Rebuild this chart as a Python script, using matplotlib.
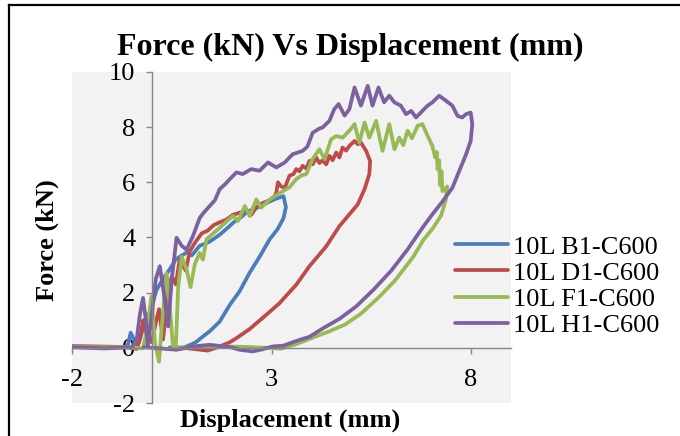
import matplotlib
matplotlib.use("Agg")
import matplotlib.pyplot as plt
from matplotlib.lines import Line2D

# ---- data ----
b1_x = [-2.0, -1.5, -1.0, -0.7, -0.6, -0.53, -0.45, -0.38, -0.3, -0.2, -0.05, 0.12, 0.28, 0.45, 0.6, 0.75,
        0.87, 1.0, 1.2, 1.45, 1.7, 1.9, 2.05, 2.25, 2.4, 2.6, 2.8, 2.95, 3.1, 3.2, 3.3, 3.36,
        3.3, 3.15, 2.95, 2.7, 2.45, 2.2, 1.95, 1.7, 1.45, 1.28, 1.1, 0.95, 0.78, 0.6, 0.45]
b1_y = [0.05, 0.04, 0.03, 0.02, 0.1, 0.55, 0.3, 0.0, 0.3, 0.8, 1.3, 2.1, 2.5, 2.85, 3.2, 3.35,
        3.45, 3.35, 3.7, 3.85, 4.1, 4.35, 4.55, 4.75, 4.95, 5.05, 5.2, 5.3, 5.4, 5.45, 5.5, 5.1,
        4.7, 4.3, 3.93, 3.3, 2.72, 2.05, 1.55, 0.95, 0.6, 0.41, 0.2, 0.1, 0.0, 0.0, 0.02]

d1_x = [-2.0, -1.5, -1.0, -0.6, -0.38, -0.3, -0.22, -0.12, 0.0, 0.1, 0.18, 0.28, 0.35, 0.42, 0.5, 0.6,
        0.7, 0.85, 0.95, 1.1, 1.25, 1.4, 1.55, 1.7, 1.87, 2.03, 2.2, 2.37, 2.49, 2.62, 2.78, 2.95,
        3.08, 3.12, 3.16, 3.24, 3.33, 3.45, 3.55, 3.62, 3.7, 3.78, 3.87, 3.95, 4.03, 4.12, 4.2, 4.28,
        4.37, 4.45, 4.53, 4.62, 4.7, 4.78, 4.87, 4.95, 5.08, 5.16, 5.24, 5.37, 5.47, 5.45, 5.33, 5.16,
        4.95, 4.7, 4.37, 3.95, 3.62, 3.2, 2.87, 2.45, 2.12, 1.95, 1.7, 1.4, 1.1, 0.8]
d1_y = [0.06, 0.05, 0.04, 0.02, -0.04, 0.3, 1.0, 0.4, 0.2, 0.9, 1.4, 0.3, 1.2, 2.1, 2.6, 2.3,
        3.2, 2.8, 3.5, 3.85, 4.15, 4.25, 4.45, 4.55, 4.65, 4.82, 4.9, 4.95, 4.82, 5.1, 5.25, 5.35,
        5.5, 5.63, 6.0, 5.85, 5.8, 6.24, 6.3, 6.48, 6.4, 6.6, 6.5, 6.78, 6.65, 6.9, 6.7, 6.8,
        6.65, 6.96, 6.8, 7.08, 6.9, 7.26, 7.15, 7.32, 7.5, 7.38, 7.44, 7.14, 6.77, 6.3, 5.75, 5.2,
        4.84, 4.41, 3.68, 2.96, 2.29, 1.62, 1.2, 0.68, 0.35, 0.2, 0.05, -0.1, -0.05, 0.0]

f1_x = [-2.0, -1.5, -1.0, -0.5, -0.22, -0.1, -0.01, 0.08, 0.18, 0.28, 0.37, 0.45, 0.53, 0.6, 0.66, 0.75,
        0.87, 0.97, 1.08, 1.2, 1.28, 1.37, 1.5, 1.7, 1.85, 2.03, 2.16, 2.33, 2.45, 2.62, 2.74, 2.87,
        3.03, 3.24, 3.45, 3.62, 3.75, 3.87, 4.03, 4.2, 4.33, 4.49, 4.62, 4.78, 4.95, 5.08, 5.2, 5.33,
        5.45, 5.62, 5.78, 5.95, 6.08, 6.2, 6.3, 6.41, 6.52, 6.66, 6.78, 6.91, 7.03, 7.1, 7.14, 7.16,
        7.2, 7.22, 7.26, 7.28, 7.35, 7.4, 7.37, 7.25, 7.05, 6.8, 6.55, 6.1, 5.7, 5.25, 4.85, 4.45,
        4.05, 3.65, 3.25, 2.9, 2.4, 1.9, 1.4, 0.9, 0.6]
f1_y = [0.03, 0.02, 0.02, 0.02, -0.02, 0.8, 1.87, 0.17, -0.5, 1.3, 2.7, 1.5, 0.05, 0.0, 2.2, 3.3,
        2.85, 2.2, 3.05, 3.44, 3.2, 3.93, 4.1, 4.35, 4.55, 4.78, 4.6, 5.14, 4.78, 5.38, 5.08, 5.27,
        5.45, 5.64, 5.82, 6.12, 6.25, 6.3, 6.85, 7.2, 6.84, 7.56, 7.68, 7.62, 7.87, 8.11, 7.44, 8.17,
        7.62, 8.23, 7.14, 8.11, 7.2, 7.62, 7.35, 7.87, 7.6, 8.05, 8.11, 7.69, 7.32, 6.9, 7.1, 6.47,
        6.8, 5.9, 6.4, 5.68, 5.75, 5.85, 5.38, 4.8, 4.35, 3.9, 3.3, 2.45, 1.85, 1.25, 0.85, 0.6,
        0.38, 0.15, -0.03, 0.0, 0.03, 0.05, 0.03, 0.02, 0.02]

h1_x = [-2.0, -1.6, -1.2, -0.8, -0.5, -0.38, -0.3, -0.22, -0.15, -0.1, 0.0, 0.1, 0.2, 0.3, 0.41, 0.5,
        0.62, 0.75, 0.87, 1.03, 1.2, 1.3, 1.45, 1.58, 1.7, 1.85, 1.95, 2.12, 2.28, 2.49, 2.7, 2.91,
        3.12, 3.33, 3.53, 3.78, 3.9, 4.03, 4.2, 4.28, 4.45, 4.57, 4.68, 4.83, 4.95, 5.08, 5.24, 5.41,
        5.53, 5.68, 5.82, 5.95, 6.08, 6.24, 6.37, 6.5, 6.62, 6.78, 6.91, 7.03, 7.2, 7.37, 7.53, 7.66,
        7.78, 7.87, 7.99, 8.03, 7.99, 7.87, 7.7, 7.53, 7.28, 7.03, 6.78, 6.4, 6.0, 5.55, 5.12, 4.7,
        4.28, 3.95, 3.62, 3.3, 3.03, 2.78, 2.53, 2.2, 1.95, 1.45, 1.03, 0.62, 0.3, 0.0, -0.2]
h1_y = [0.02, 0.0, -0.02, 0.0, 0.02, 0.3, 1.2, 1.81, 1.0, 0.05, 1.2, 2.5, 2.96, 2.0, 0.78, 2.5,
        3.99, 3.7, 3.56, 4.05, 4.71, 4.9, 5.14, 5.35, 5.75, 5.95, 6.11, 6.36, 6.3, 6.48, 6.42, 6.72,
        6.54, 6.72, 7.02, 7.14, 7.3, 7.8, 7.95, 7.99, 8.23, 8.65, 8.84, 8.42, 8.65, 9.44, 8.78, 9.5,
        8.78, 9.44, 8.9, 9.14, 8.9, 8.78, 8.47, 8.59, 8.35, 8.59, 8.78, 8.9, 9.14, 8.96, 8.78, 8.41,
        8.35, 8.47, 8.53, 8.11, 7.5, 7.0, 6.4, 5.8, 5.3, 4.84, 4.35, 3.55, 2.8, 2.1, 1.5, 1.05,
        0.7, 0.4, 0.25, 0.08, 0.05, -0.05, -0.13, -0.07, 0.03, 0.11, 0.05, -0.07, -0.03, 0.0, 0.02]

labels = ["10L B1-C600", "10L D1-C600", "10L F1-C600", "10L H1-C600"]
colors = ["#4a7ebb", "#be4b48", "#98b954", "#7d60a0"]
x_ticks = [-2, 3, 8]
y_ticks = [-2, 0, 2, 4, 6, 8, 10]

W, H = 680, 436
fig = plt.figure(figsize=(W / 100, H / 100), dpi=100)
serif = "Liberation Serif"

ax = fig.add_axes([72 / W, 1 - 403 / H, (511 - 72) / W, (403 - 72) / H])
ax.set_facecolor("#f2f2f2")
series = [(b1_x, b1_y), (d1_x, d1_y), (f1_x, f1_y), (h1_x, h1_y)]
handles = []
for (xs, ys), lab, c in zip(series, labels, colors):
    h, = ax.plot(xs, ys, color=c, lw=2.7, label=lab, solid_capstyle="round", solid_joinstyle="round")
    handles.append(h)

ax.set_xlim(-2, 9)
ax.set_ylim(-2, 10)
ax.set_xticks(x_ticks)
ax.set_yticks(y_ticks)
ax.set_xticklabels([str(t) for t in x_ticks])
ax.set_yticklabels([str(t) for t in y_ticks])
for s in ["top", "right"]:
    ax.spines[s].set_visible(False)
ax.spines["left"].set_position(("data", 0))
ax.spines["bottom"].set_position(("data", 0))
for s in ["left", "bottom"]:
    ax.spines[s].set_color("#868686")
    ax.spines[s].set_linewidth(1.0)
ax.tick_params(axis="both", direction="out", length=4, width=1.0, color="#868686",
               labelsize=19, labelfontfamily=serif)
ax.tick_params(axis="x", pad=11)
ax.tick_params(axis="y", pad=8)

fig.text(350 / W, 1 - 47 / H, "Force (kN) Vs Displacement (mm)", ha="center", va="center",
         fontsize=23, fontweight="bold", family=serif)
fig.text(47 / W, 1 - 240 / H, "Force (kN)", ha="center", va="center", rotation=90,
         fontsize=19, fontweight="bold", family=serif)
fig.text(290 / W, 1 - 420 / H, "Displacement (mm)", ha="center", va="center",
         fontsize=19, fontweight="bold", family=serif)

fig.legend(handles, labels, loc="center left", bbox_to_anchor=(455 / W, 1 - 286 / H),
           frameon=False, borderpad=0, borderaxespad=0, handlelength=2.0, handletextpad=0.2,
           labelspacing=0.1, prop={"family": serif, "size": 19})

fig.add_artist(Line2D([8.5 / W, 8.5 / W], [0, 1 - 5.5 / H], transform=fig.transFigure,
                      color="black", lw=1.6))
fig.add_artist(Line2D([8.5 / W, 1], [1 - 5.5 / H, 1 - 5.5 / H], transform=fig.transFigure,
                      color="black", lw=1.6))

fig.savefig("out.png", dpi=100, facecolor="white")
